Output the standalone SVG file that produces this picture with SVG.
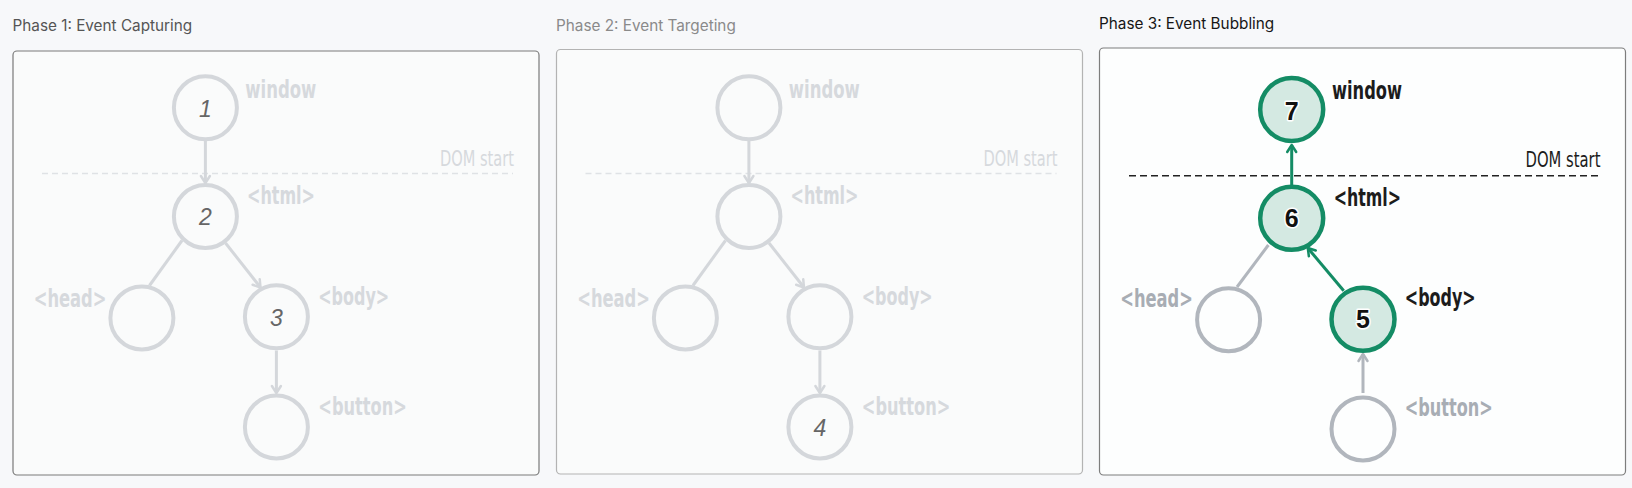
<svg xmlns="http://www.w3.org/2000/svg" width="1632" height="488" viewBox="0 0 1632 488">
<defs>
<style>
.title{font-family:Inter,"Liberation Sans",sans-serif;font-size:15.3px}
.lbl{font-family:"Liberation Sans Narrow","DejaVu Sans Condensed",sans-serif;font-weight:bold;font-size:25px}
.dom{font-family:"Liberation Sans Narrow","DejaVu Sans Condensed",sans-serif;font-size:21px}
.faint{fill:#d6d9dd}
.grey{fill:#a8adb4}
.dark{fill:#1c1c1c}
.dig1{font-family:"Liberation Sans",sans-serif;font-style:italic;font-size:23px;fill:#666;text-anchor:middle}
.dig3{font-family:"Liberation Sans",sans-serif;font-weight:bold;font-size:25px;fill:#111;text-anchor:middle;stroke:#fff;stroke-width:3;paint-order:stroke;stroke-linejoin:round}
.cf{fill:none;stroke:#d4d7db;stroke-width:4}
.cg{fill:none;stroke:#b1b6bd;stroke-width:4}
.cgr{fill:#d4e9e2;stroke:#148c65;stroke-width:4.5}
.lf{stroke:#d4d7db;stroke-width:3;fill:none}
.lg{stroke:#b1b6bd;stroke-width:3;fill:none}
.lgr{stroke:#148c65;stroke-width:3;fill:none}
</style>
<marker id="af" markerUnits="userSpaceOnUse" viewBox="-10 -7 14 14" markerWidth="14" markerHeight="14" refX="0" refY="0" orient="auto"><path d="M-7,-4.5 L0,0 L-7,4.5" fill="none" stroke="#d4d7db" stroke-width="2.5" stroke-linecap="round" stroke-linejoin="round"/></marker>
<marker id="ag" markerUnits="userSpaceOnUse" viewBox="-10 -7 14 14" markerWidth="14" markerHeight="14" refX="0" refY="0" orient="auto"><path d="M-7,-4.5 L0,0 L-7,4.5" fill="none" stroke="#b1b6bd" stroke-width="2.5" stroke-linecap="round" stroke-linejoin="round"/></marker>
<marker id="agr" markerUnits="userSpaceOnUse" viewBox="-10 -7 14 14" markerWidth="14" markerHeight="14" refX="0" refY="0" orient="auto"><path d="M-7,-4.5 L0,0 L-7,4.5" fill="none" stroke="#148c65" stroke-width="2.5" stroke-linecap="round" stroke-linejoin="round"/></marker>
</defs>
<rect x="0" y="0" width="1632" height="488" fill="#f7f8fa"/>

<!-- Panel frames and titles -->
<g id="panel1">
<text class="title" x="12.5" y="31" fill="#555">Phase 1: Event Capturing</text>
<rect x="13" y="51" width="526" height="424" rx="4" fill="#fafbfb" stroke="#7a7a7a" stroke-width="1.2"/>
<line x1="42" y1="173.5" x2="513" y2="173.5" stroke="#dfe2e5" stroke-width="1.5" stroke-dasharray="6 4"/>
<text class="dom faint" x="514" y="166" text-anchor="end" textLength="74" lengthAdjust="spacingAndGlyphs">DOM start</text>
</g>
<g id="panel2">
<text class="title" x="556" y="30.5" fill="#8a8a8a">Phase 2: Event Targeting</text>
<rect x="556.5" y="49.5" width="526" height="424.5" rx="4" fill="#fafbfb" stroke="#b3b3b3" stroke-width="1.2"/>
<line x1="585.5" y1="173.5" x2="1056.5" y2="173.5" stroke="#dfe2e5" stroke-width="1.5" stroke-dasharray="6 4"/>
<text class="dom faint" x="1057.5" y="166" text-anchor="end" textLength="74" lengthAdjust="spacingAndGlyphs">DOM start</text>
</g>
<g id="panel3">
<text class="title" x="1099" y="28.5" fill="#161616">Phase 3: Event Bubbling</text>
<rect x="1099.5" y="48" width="526" height="427" rx="4" fill="#fdfefe" stroke="#7d7d7d" stroke-width="1.2"/>
<line x1="1129" y1="175.7" x2="1599" y2="175.7" stroke="#222" stroke-width="1.5" stroke-dasharray="7 4"/>
<text class="dom dark" x="1600.5" y="166.7" text-anchor="end" textLength="75" lengthAdjust="spacingAndGlyphs">DOM start</text>
</g>

<!-- Connectors -->
<g id="connectors">
<!-- panel 1 -->
<line class="lf" x1="205.4" y1="141" x2="205.4" y2="183" marker-end="url(#af)"/>
<line class="lf" x1="182" y1="240.5" x2="149.5" y2="285.5"/>
<line class="lf" x1="225.5" y1="243" x2="260.5" y2="287.5" marker-end="url(#af)"/>
<line class="lf" x1="276.4" y1="350.5" x2="276.4" y2="393" marker-end="url(#af)"/>
<!-- panel 2 -->
<line class="lf" x1="748.9" y1="141" x2="748.9" y2="183" marker-end="url(#af)"/>
<line class="lf" x1="725.5" y1="240.5" x2="693" y2="285.5"/>
<line class="lf" x1="769" y1="243" x2="804" y2="287.5" marker-end="url(#af)"/>
<line class="lf" x1="819.9" y1="350.5" x2="819.9" y2="393" marker-end="url(#af)"/>
<!-- panel 3 -->
<line class="lgr" x1="1291.7" y1="185" x2="1291.7" y2="145" marker-end="url(#agr)"/>
<line class="lg" x1="1237" y1="287" x2="1268.4" y2="245"/>
<line class="lgr" x1="1343.7" y1="290.7" x2="1307.8" y2="248" marker-end="url(#agr)"/>
<line class="lg" x1="1363" y1="393" x2="1363" y2="354" marker-end="url(#ag)"/>
</g>

<!-- Panel 1 nodes -->
<g id="p1-window"><circle class="cf" cx="205.4" cy="107.8" r="31.5"/><text class="dig1" x="205.4" y="116.7">1</text><text class="lbl faint" x="245.3" y="98" textLength="71" lengthAdjust="spacingAndGlyphs">window</text></g>
<g id="p1-html"><circle class="cf" cx="205.4" cy="216.5" r="31.5"/><text class="dig1" x="205.4" y="225">2</text><text class="lbl faint" x="247" y="204" textLength="68" lengthAdjust="spacingAndGlyphs">&lt;html&gt;</text></g>
<g id="p1-head"><circle class="cf" cx="141.9" cy="318" r="31.5"/><text class="lbl faint" x="33.7" y="307.3" textLength="72.8" lengthAdjust="spacingAndGlyphs">&lt;head&gt;</text></g>
<g id="p1-body"><circle class="cf" cx="276.4" cy="316.8" r="31.5"/><text class="dig1" x="276.4" y="325.7">3</text><text class="lbl faint" x="318.2" y="304.7" textLength="71" lengthAdjust="spacingAndGlyphs">&lt;body&gt;</text></g>
<g id="p1-button"><circle class="cf" cx="276.4" cy="427" r="31.5"/><text class="lbl faint" x="318.3" y="414.7" textLength="88.5" lengthAdjust="spacingAndGlyphs">&lt;button&gt;</text></g>

<!-- Panel 2 nodes -->
<g id="p2-window"><circle class="cf" cx="748.9" cy="107.8" r="31.5"/><text class="lbl faint" x="788.8" y="98" textLength="71" lengthAdjust="spacingAndGlyphs">window</text></g>
<g id="p2-html"><circle class="cf" cx="748.9" cy="216.5" r="31.5"/><text class="lbl faint" x="790.5" y="204" textLength="68" lengthAdjust="spacingAndGlyphs">&lt;html&gt;</text></g>
<g id="p2-head"><circle class="cf" cx="685.4" cy="318" r="31.5"/><text class="lbl faint" x="577.2" y="307.3" textLength="72.8" lengthAdjust="spacingAndGlyphs">&lt;head&gt;</text></g>
<g id="p2-body"><circle class="cf" cx="819.9" cy="316.8" r="31.5"/><text class="lbl faint" x="861.7" y="304.7" textLength="71" lengthAdjust="spacingAndGlyphs">&lt;body&gt;</text></g>
<g id="p2-button"><circle class="cf" cx="819.9" cy="427" r="31.5"/><text class="dig1" x="819.9" y="435.7">4</text><text class="lbl faint" x="861.8" y="414.7" textLength="88.5" lengthAdjust="spacingAndGlyphs">&lt;button&gt;</text></g>

<!-- Panel 3 nodes -->
<g id="p3-window"><circle class="cgr" cx="1291.7" cy="109.5" r="31.5"/><text class="dig3" x="1291.7" y="119.5">7</text><text class="lbl dark" x="1332" y="99.3" textLength="70" lengthAdjust="spacingAndGlyphs">window</text></g>
<g id="p3-html"><circle class="cgr" cx="1291.7" cy="218.3" r="31.5"/><text class="dig3" x="1291.7" y="226.8">6</text><text class="lbl dark" x="1333.7" y="205.7" textLength="67.3" lengthAdjust="spacingAndGlyphs">&lt;html&gt;</text></g>
<g id="p3-head"><circle class="cg" cx="1228.6" cy="319.7" r="31.5"/><text class="lbl grey" x="1120.3" y="307.3" textLength="72.5" lengthAdjust="spacingAndGlyphs">&lt;head&gt;</text></g>
<g id="p3-body"><circle class="cgr" cx="1363" cy="319.3" r="31.5"/><text class="dig3" x="1363" y="328.3">5</text><text class="lbl dark" x="1404.8" y="306.3" textLength="70.8" lengthAdjust="spacingAndGlyphs">&lt;body&gt;</text></g>
<g id="p3-button"><circle class="cg" cx="1363" cy="429" r="31.5"/><text class="lbl grey" x="1404.8" y="416.3" textLength="88" lengthAdjust="spacingAndGlyphs">&lt;button&gt;</text></g>
</svg>
